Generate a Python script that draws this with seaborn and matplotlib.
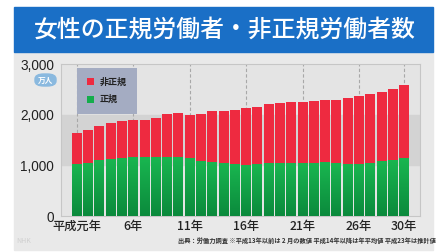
import numpy as np
import pandas as pd
import matplotlib
matplotlib.use("Agg")
import matplotlib.pyplot as plt
import seaborn as sns
from matplotlib.patches import Rectangle, FancyBboxPatch, Patch
from matplotlib.colors import LinearSegmentedColormap

sns.set_theme(style="white")
plt.rcParams["font.family"] = ["Noto Sans CJK JP", "DejaVu Sans"]

title = "女性の正規労働者・非正規労働者数"
years = ["平成元年", "2年", "3年", "4年", "5年", "6年", "7年", "8年", "9年", "10年",
         "11年", "12年", "13年", "14年", "15年", "16年", "17年", "18年", "19年", "20年",
         "21年", "22年", "23年", "24年", "25年", "26年", "27年", "28年", "29年", "30年"]
regular = [1036, 1050, 1101, 1132, 1148, 1165, 1159, 1163, 1172, 1168,
           1148, 1077, 1062, 1052, 1034, 1011, 1018, 1041, 1039, 1044,
           1046, 1051, 1058, 1041, 1027, 1019, 1042, 1078, 1114, 1138]
nonregular = [595, 646, 680, 708, 720, 728, 741, 764, 840, 857,
              844, 935, 1015, 1012, 1063, 1113, 1132, 1162, 1196, 1198,
              1203, 1223, 1224, 1247, 1300, 1342, 1364, 1374, 1385, 1452]
tick_labels = ["平成元年", "6年", "11年", "16年", "21年", "26年", "30年"]
y_ticks = [0, 1000, 2000, 3000]
y_tick_labels = ["0", "1,000", "2,000", "3,000"]
legend_labels = ["非正規", "正規"]
unit = "万人"
source = "出典：労働力調査 ※平成13年以前は 2 月の数値 平成14年以降は年平均値 平成23年は推計値"

RED = "#ee2a40"
GREEN = "#14ad4c"

total = [r + n for r, n in zip(regular, nonregular)]
df = pd.DataFrame({"year": years, "total": total, "regular": regular})

W, H = 447, 252
fig = plt.figure(figsize=(W / 100, H / 100), dpi=100)
fig.patch.set_facecolor("white")

def fx(x):
    return x / W

def fy(y):
    return 1 - y / H

# grey panel and title banner (behind the axes)
fig.patches.append(Rectangle((fx(14), fy(250)), fx(433) - fx(14), fy(52) - fy(250),
                             transform=fig.transFigure, color="#e9e9e9", zorder=-2))
fig.patches.append(Rectangle((fx(14), fy(52)), fx(433) - fx(14), fy(7) - fy(52),
                             transform=fig.transFigure, color="#1a6fc6", zorder=-2))
fig.text(fx(225), fy(30), title, color="white", fontsize=17.2, fontweight="medium",
         ha="center", va="center")

ax = fig.add_axes([fx(61), fy(216), fx(420) - fx(61), fy(64) - fy(216)])
ax.set_facecolor("#e4e4e4")
ax.axhspan(1000, 2000, color="#d3d3d3", zorder=0)

sns.barplot(data=df, x="year", y="total", color=RED, width=0.88, saturation=1,
            ax=ax, zorder=3, edgecolor="none")
n_red = len(ax.patches)
sns.barplot(data=df, x="year", y="regular", color=GREEN, width=0.88, saturation=1,
            ax=ax, zorder=4, edgecolor="none")

# gradient on green bars
grad = np.linspace(0, 1, 64).reshape(-1, 1)
cmap = LinearSegmentedColormap.from_list("g", ["#0b8a3c", "#19b650"])
for p in ax.patches[n_red:]:
    x0, y0 = p.get_x(), p.get_y()
    w, h = p.get_width(), p.get_height()
    im = ax.imshow(grad, cmap=cmap, aspect="auto", origin="lower",
                   extent=(x0, x0 + w, y0, y0 + h), zorder=4.5)
    im.set_clip_path(p)

pos = [years.index(l) for l in tick_labels]
for p in pos:
    ax.axvline(p, color="#a8a8a8", lw=0.8, ls=(0, (3, 2)), zorder=1)

ax.set_xlim(-1.4, 30.4)
ax.set_ylim(0, 3000)
ax.set_xticks(pos)
ax.set_xticklabels(tick_labels, fontsize=8.8, color="#222222", fontweight="medium")
ax.set_yticks(y_ticks)
ax.set_yticklabels(y_tick_labels, fontsize=9.8, color="#222222", family=["Liberation Sans"])
ax.tick_params(axis="both", length=0)
ax.tick_params(axis="y", pad=5)
ax.tick_params(axis="x", pad=3)
ax.set_xlabel("")
ax.set_ylabel("")
for s in ax.spines.values():
    s.set_color("#c6c6c6")
    s.set_linewidth(0.8)

handles = [Patch(facecolor=RED, edgecolor="none"), Patch(facecolor=GREEN, edgecolor="none")]
leg = ax.legend(handles, legend_labels, loc="upper left", bbox_to_anchor=(0.045, 0.975),
                fontsize=6.5, frameon=True, fancybox=False, facecolor="#a4acc2",
                edgecolor="none", framealpha=1, handlelength=0.8, handleheight=0.8,
                handletextpad=0.6, borderpad=1.1, labelspacing=0.9, borderaxespad=0)
leg.set_zorder(6)
for t in leg.get_texts():
    t.set_color("#222222")
    t.set_fontweight("bold")

# unit badge
fig.patches.append(FancyBboxPatch((fx(35), fy(86)), fx(56) - fx(35), fy(74) - fy(86),
                                  boxstyle="round,pad=0,rounding_size=0.02",
                                  transform=fig.transFigure, color="#8ab9df", zorder=2))
fig.text(fx(45.5), fy(80), unit, color="white", fontsize=5.5, fontweight="bold",
         ha="center", va="center")

fig.text(fx(436), fy(240), source, color="#333333", fontsize=4.5, fontweight="bold",
         ha="right", va="center")
fig.text(fx(16), fy(241), "NHK", color="#cfcfcf", fontsize=5, ha="left", va="center",
         style="italic")

fig.savefig("out.png", dpi=100)
